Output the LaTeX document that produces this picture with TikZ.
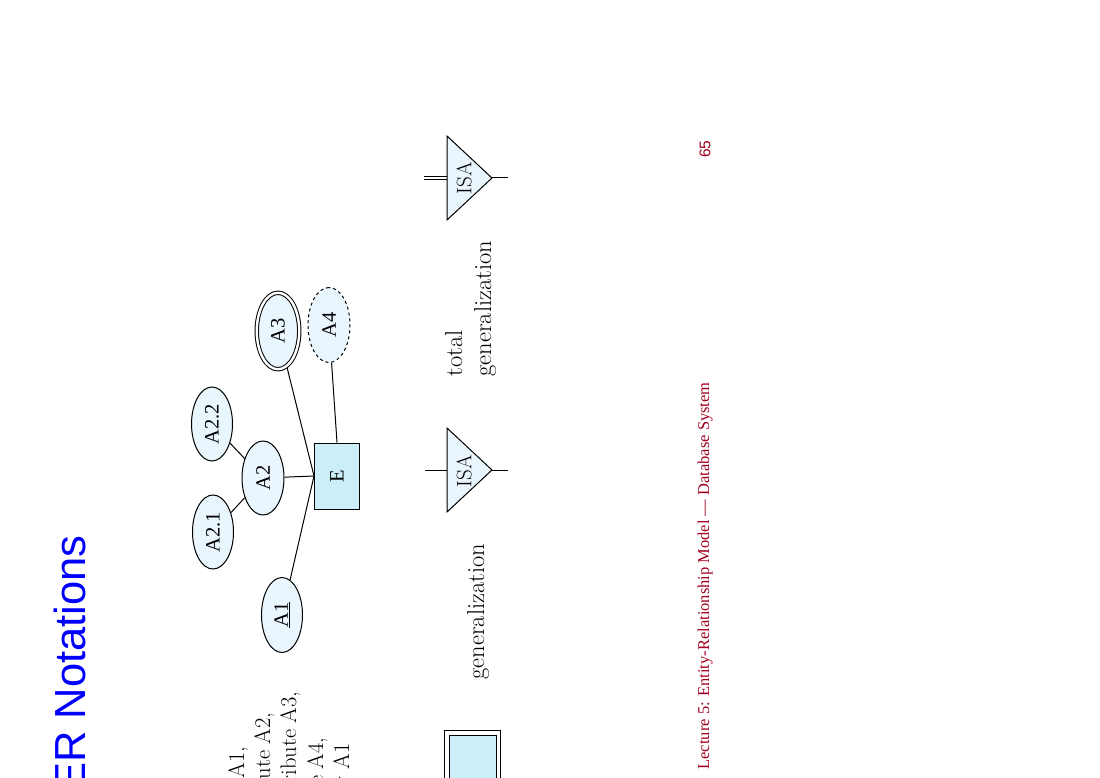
\documentclass[tikz,border=0pt]{standalone}
\usepackage{fontspec}
\newfontfamily\sansf{Liberation Sans}
\newfontfamily\seriff{Liberation Serif}
\usetikzlibrary{shapes.geometric,backgrounds}
\definecolor{attrfill}{RGB}{234,246,253}
\definecolor{entfill}{RGB}{204,238,248}
\definecolor{footred}{RGB}{160,0,32}
\definecolor{titleblue}{RGB}{0,0,255}
\begin{document}
\begin{tikzpicture}[x=1pt,y=-1pt,line width=1pt,
  attr/.style={ellipse,draw,fill=attrfill,inner sep=0pt,rotate=90,
    font=\seriff\fontsize{20.5}{24}\selectfont},
  txt/.style={rotate=90,inner sep=0pt,font=\fontsize{22.5}{27}\selectfont},
  gtxt/.style={txt,font=\fontsize{24.5}{29}\selectfont},
  link/.style={draw,line width=1pt},
  tri/.style={draw,fill=attrfill,line join=miter}]
\useasboundingbox (0,0) rectangle (1100,778);
\clip (0,0) rectangle (1100,778);

% title
\node[txt,anchor=base east,font=\sansf\fontsize{43.5}{50}\selectfont,text=titleblue] (title) at (85,535) {ER Notations};

% description lines (cut off at the bottom edge)
\node[txt,anchor=base east] (d1) at (244,746) {entity set E with attributes A1,};
\node[txt,anchor=base east] (d2) at (270,712) {composite attribute A2,};
\node[txt,anchor=base east] (d3) at (296,691) {multivalued attribute A3,};
\node[txt,anchor=base east] (d4) at (323,737) {derived attribute A4,};
\node[txt,anchor=base east] (d5) at (349,743) {and primary key A1};

% ER diagram
\node[attr,minimum width=74pt,minimum height=41pt] (A21) at (213,532) {A2.1};
\node[attr,minimum width=74pt,minimum height=41pt] (A22) at (212,424) {A2.2};
\node[attr,minimum width=74pt,minimum height=42pt] (A2) at (263,478) {A2};
\node[attr,minimum width=75pt,minimum height=41pt] (A1) at (282,615) {\underline{A1}};
\node[attr,minimum width=76.5pt,minimum height=42.5pt,double=white,double distance=2.4pt] (A3) at (278,331) {A3};
\node[attr,dashed,minimum width=75pt,minimum height=42pt] (A4) at (329,325) {A4};
\node[rectangle,draw,fill=entfill,rotate=90,inner sep=0pt,minimum width=66pt,minimum height=45pt,
  font=\seriff\fontsize{20.5}{24}\selectfont] (E) at (337,476) {E};

\begin{scope}[on background layer,line width=1pt]
\draw[link] (A21) -- (A2);
\draw[link] (A22) -- (A2);
\draw[link] (A2) -- (E.north);
\draw[link] (A1) -- (E.north);
\draw[link] (A3) -- (E.north);
\draw[link] (A4) -- (E.east);
\end{scope}

% generalization
\coordinate (g1l) at (425,470);
\coordinate (g1b) at (447,470);
\coordinate (g1a) at (447,428);
\coordinate (g1c) at (447,512);
\coordinate (g1p) at (492,470);
\coordinate (g1r) at (508,470);
\draw (g1l) -- (g1b);
\draw (g1p) -- (g1r);
\draw[tri] (g1a) -- (g1c) -- (g1p) -- cycle;
\node[txt,font=\fontsize{21}{25}\selectfont] (isa1) at (464,471) {ISA};
\node[gtxt,anchor=base west] (gen) at (484,680) {generalization};

% total generalization
\coordinate (g2l) at (424,178);
\coordinate (g2b) at (447,178);
\coordinate (g2a) at (447,136);
\coordinate (g2c) at (447,220);
\coordinate (g2p) at (492,178);
\coordinate (g2r) at (508,178);
\draw[double=white,double distance=2.4pt] (g2l) -- (g2b);
\draw (g2p) -- (g2r);
\draw[tri] (g2a) -- (g2c) -- (g2p) -- cycle;
\node[txt,font=\fontsize{21}{25}\selectfont] (isa2) at (464,178) {ISA};
\node[gtxt,anchor=base west] (tot1) at (462,377) {total};
\node[gtxt,anchor=base west] (tot2) at (491,377) {generalization};

% weak entity set (cut off)
\draw (444,730) rectangle (500,800);
\draw[fill=entfill] (449,735) rectangle (496,800);

% footer
\node[txt,anchor=base west,font=\seriff\fontsize{16.5}{19}\selectfont,text=footred] (foot) at (709,770) {Lecture 5: Entity-Relationship Model — Database System};
\node[txt,font=\sansf\fontsize{15.5}{18}\selectfont,text=footred] (pg) at (705,149) {65};
\end{tikzpicture}
\end{document}
